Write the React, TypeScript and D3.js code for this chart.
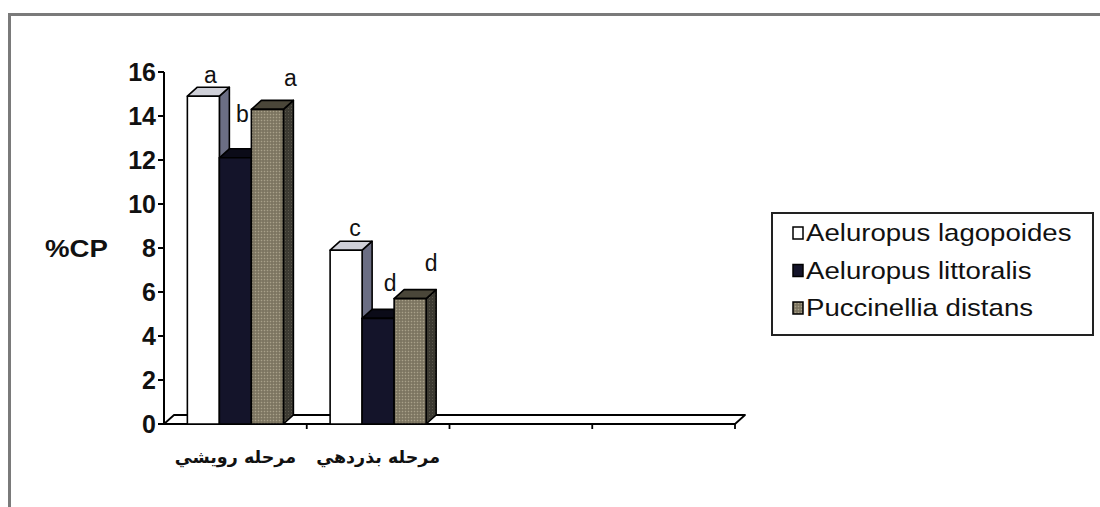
import React from "react";
import * as d3 from "d3";

const categories = ["مرحله رويشي", "مرحله بذردهي", "", ""];
const seriesNames = ["Aeluropus lagopoides", "Aeluropus littoralis", "Puccinellia distans"];
const lagopoides = [14.9, 7.9];
const littoralis = [12.1, 4.8];
const distans = [14.3, 5.7];
const lettersLagopoides = ["a", "c"];
const lettersLittoralis = ["b", "d"];
const lettersDistans = ["a", "d"];
const yTicks = [0, 2, 4, 6, 8, 10, 12, 14, 16];
const yLabel = "%CP";

// styling / annotation nudges (not data)
const labelNudge = [
  [[2, -4], [4, -5]],
  [[2, -27], [7, -18]],
  [[18, -14], [16, -19]],
];

const W = 1100, H = 507;
const DX = 10, DY = -9;

const styles = [
  { front: "#ffffff", side: "#6b6e84", top: "#cfd0d8" },
  { front: "#14142a", side: "#2a2a44", top: "#0b0b18" },
  { front: "url(#olive)", side: "url(#oliveDark)", top: "#4a4639" },
];

export default function App() {
  const series = [lagopoides, littoralis, distans];
  const letters = [lettersLagopoides, lettersLittoralis, lettersDistans];
  const x0 = d3.scaleBand<number>().domain(d3.range(categories.length)).range([164, 735]).paddingInner(0).paddingOuter(0);
  const x1 = d3.scaleBand<number>().domain(d3.range(series.length)).range([0, x0.bandwidth()]).paddingInner(0).paddingOuter(0.73);
  const y = d3.scaleLinear().domain([0, 16]).range([424, 72]);
  const y0 = y(0);
  const bw = x1.bandwidth();
  const xEnd = x0.range()[1];

  const bars: any[] = [];
  const labels: any[] = [];
  categories.forEach((_, ci) => {
    series.forEach((vals, si) => {
      const v = vals[ci];
      if (v === undefined) return;
      const xl = (x0(ci) as number) + (x1(si) as number);
      const xr = xl + bw;
      const yt = y(v);
      const st = styles[si];
      bars.push(
        <g key={`b${ci}-${si}`} stroke="#000" strokeWidth={1.6} strokeLinejoin="round">
          <polygon points={`${xr},${y0} ${xr + DX},${y0 + DY} ${xr + DX},${yt + DY} ${xr},${yt}`} fill={st.side} />
          <polygon points={`${xl},${yt} ${xl + DX},${yt + DY} ${xr + DX},${yt + DY} ${xr},${yt}`} fill={st.top} />
          <rect x={xl} y={yt} width={bw} height={y0 - yt} fill={st.front} />
        </g>
      );
      const nd = labelNudge[si][ci];
      labels.push(
        <text key={`l${ci}-${si}`} x={xl + bw / 2 + DX / 2 + nd[0]} y={yt + DY + nd[1]} textAnchor="middle"
          fontFamily="Liberation Sans, Arial, sans-serif" fontSize={23} fill="#111">
          {letters[si][ci]}
        </text>
      );
    });
  });

  return (
    <div style={{ position: "absolute", left: 0, top: 0 }}>
      <svg width={W} height={H} style={{ display: "block" }}>
        <defs>
          <pattern id="olive" width="3" height="3" patternUnits="userSpaceOnUse">
            <rect width="3" height="3" fill="#867e69" />
            <rect width="1" height="1" fill="#a8a18a" />
            <rect x="1.5" y="1.5" width="1" height="1" fill="#5e5848" />
          </pattern>
          <pattern id="oliveDark" width="3" height="3" patternUnits="userSpaceOnUse">
            <rect width="3" height="3" fill="#3c3a32" />
            <rect width="1" height="1" fill="#5a574b" />
          </pattern>
        </defs>
        <rect x={0} y={0} width={W} height={H} fill="#fff" />
        {/* outer frame */}
        <path d={`M9.5,${H + 5} L9.5,14.5 L${W + 5},14.5`} fill="none" stroke="#7a7a7a" strokeWidth={3} />

        {/* floor */}
        <polygon points={`164,${y0} ${164 + DX},${y0 + DY} ${xEnd + DX},${y0 + DY} ${xEnd},${y0}`} fill="#fff" stroke="#000" strokeWidth={1.8} strokeLinejoin="round" />
        {/* category ticks */}
        {categories.map((_, ci) => {
          const xt = (x0(ci) as number) + x0.bandwidth();
          return <line key={`ct${ci}`} x1={xt} x2={xt} y1={y0} y2={y0 + 5} stroke="#000" strokeWidth={1.8} />;
        })}
        {/* y axis */}
        <line x1={164} x2={164} y1={y(16)} y2={y0} stroke="#000" strokeWidth={2} />
        {yTicks.map((t) => (
          <g key={`yt${t}`}>
            <line x1={158} x2={164} y1={y(t)} y2={y(t)} stroke="#000" strokeWidth={2} />
            <text x={156} y={y(t) + 9} textAnchor="end" fontFamily="Liberation Sans, Arial, sans-serif" fontWeight="bold" fontSize={25} fill="#111">{t}</text>
          </g>
        ))}
        <g transform={`translate(45,${y(8) + 9}) scale(1.15,1)`}>
          <text x={0} y={0} fontFamily="Liberation Sans, Arial, sans-serif" fontWeight="bold" fontSize={24} fill="#111">{yLabel}</text>
        </g>

        {bars}
        {labels}

        {/* category labels */}
        {categories.map((c, ci) => c ? (
          <text key={`cl${ci}`} x={(x0(ci) as number) + x0.bandwidth() / 2} y={463} textAnchor="middle" direction="rtl"
            fontFamily="DejaVu Sans, sans-serif" fontWeight="bold" fontSize={17.5} fill="#111">{c}</text>
        ) : null)}

        {/* legend */}
        <rect x={772} y={213} width={321} height={122} fill="#fff" stroke="#222" strokeWidth={2} />
        {seriesNames.map((n, i) => {
          const by = 241 + i * 37.5;
          return (
            <g key={`lg${i}`}>
              <rect x={793} y={by - 14} width={10} height={12} fill={styles[i].front} stroke="#000" strokeWidth={1.5} />
              <g transform={`translate(806,${by}) scale(1.15,1)`}>
                <text x={0} y={0} fontFamily="Liberation Sans, Arial, sans-serif" fontSize={24} fill="#111">{n}</text>
              </g>
            </g>
          );
        })}
      </svg>
    </div>
  );
}
